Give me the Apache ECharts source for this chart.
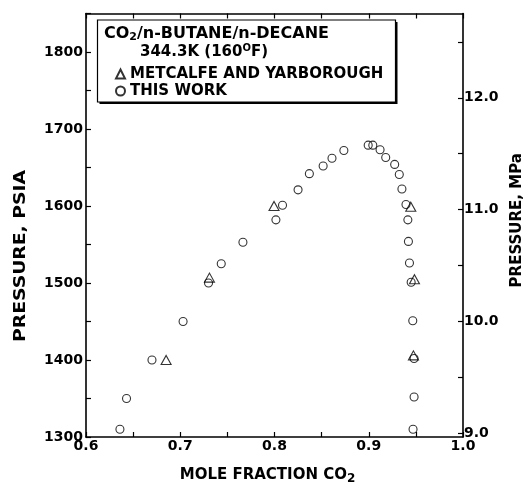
<!DOCTYPE html>
<html>
<head>
<meta charset="utf-8">
<script src="https://cdn.jsdelivr.net/npm/echarts@6/dist/echarts.min.js"></script>
<style>
  html, body { margin: 0; padding: 0; background: #fff; }
  #chart { width: 528px; height: 485px; }
</style>
</head>
<body>
<div id="chart"></div>
<script>
// CO2/n-butane/n-decane at 344.3 K
const thisWorkX = [0.636, 0.643, 0.670, 0.703, 0.730, 0.7435, 0.7665, 0.8015, 0.8085, 0.825,
  0.837, 0.8516, 0.861, 0.8736, 0.8994, 0.9043, 0.912, 0.918, 0.9275, 0.9324,
  0.9352, 0.9395, 0.9415, 0.9421, 0.9432, 0.945, 0.9467, 0.9481, 0.9481, 0.947]
const thisWorkP = [1310, 1350, 1400, 1450, 1500, 1525, 1553, 1582, 1601, 1621,
  1642, 1652, 1662, 1672, 1679, 1679, 1673, 1663, 1654, 1641,
  1622, 1602, 1582, 1554, 1526, 1501, 1451, 1402, 1352, 1310]
const metcalfeX = [0.685, 0.731, 0.7995, 0.9446, 0.9485, 0.9474]
const metcalfeP = [1400, 1507, 1600, 1599, 1505, 1406]

const xRange = [0.6, 1.0]
const psiRange = [1300, 1850]
const PSI_PER_MPA = 145.038
const mpaLabels = [9, 10, 11, 12]
const mpaTicks = [9, 9.5, 10, 10.5, 11, 11.5, 12, 12.5]

const FONT = '"DejaVu Sans", sans-serif'
const sub = {fontFamily: FONT, fontWeight: 'bold', fontSize: 11, padding: [7, 0, 0, 0], color: '#000'}
const sup = {fontFamily: FONT, fontWeight: 'bold', fontSize: 10, padding: [0, 0, 7, 0], color: '#000'}

const axisLine = {show: true, lineStyle: {color: '#000', width: 1.6}}
const axisTick = {show: true, inside: true, length: 5, lineStyle: {color: '#000', width: 1.2}}
const numLabel = {color: '#000', fontFamily: FONT, fontWeight: 'bold', fontSize: 14}
const nameStyle = {color: '#000', fontFamily: FONT, fontWeight: 'bold', fontSize: 15}

const chart = echarts.init(document.getElementById('chart'))

chart.setOption({
  animation: false,
  backgroundColor: '#fff',
  grid: {left: 86, right: 65, top: 13.5, bottom: 48, outerBoundsMode: 'none'},
  legend: {
    orient: 'vertical',
    left: 115,
    top: 66,
    padding: 0,
    itemWidth: 9,
    itemHeight: 9,
    itemGap: 1,
    selectedMode: false,
    z: 20,
    textStyle: {color: '#000', fontFamily: FONT, fontWeight: 'bold', fontSize: 15, lineHeight: 16},
    data: [
      {name: 'METCALFE AND YARBOROUGH', icon: 'triangle'},
      {name: 'THIS WORK', icon: 'circle'}
    ]
  },
  graphic: [
    // legend box with drop shadow
    {type: 'rect', z: 10, shape: {x: 99.5, y: 22, width: 298, height: 82}, style: {fill: '#000'}},
    {type: 'rect', z: 11, shape: {x: 97.5, y: 20, width: 298, height: 82}, style: {fill: '#fff', stroke: '#000', lineWidth: 1.2}},
    {
      type: 'text', z: 12, x: 104, y: 34,
      style: {
        text: 'CO{s|2}/n-BUTANE/n-DECANE',
        fill: '#000', font: 'bold 16px "DejaVu Sans"', verticalAlign: 'middle',
        rich: {s: sub}
      }
    },
    {
      type: 'text', z: 12, x: 140, y: 52,
      style: {
        text: '344.3K (160{o|O}F)',
        fill: '#000', font: 'bold 15px "DejaVu Sans"', verticalAlign: 'middle',
        rich: {o: sup}
      }
    },
    // left axis title, typeset wide like the original
    {
      type: 'text', z: 12, x: 21, y: 256, rotation: Math.PI / 2, scaleX: 1.25,
      style: {
        text: 'PRESSURE, PSIA',
        fill: '#000', font: 'bold 15px "DejaVu Sans"', align: 'center', verticalAlign: 'middle'
      }
    }
  ],
  xAxis: [
    {
      type: 'value', position: 'bottom',
      min: xRange[0], max: xRange[1], interval: 0.05,
      axisLine, axisTick,
      splitLine: {show: false},
      axisLabel: {
        ...numLabel, margin: 2,
        formatter: v => Math.round(v * 100) % 10 === 0 ? v.toFixed(1) : ''
      },
      name: 'MOLE FRACTION CO{s|2}',
      nameLocation: 'middle',
      nameGap: 29,
      nameTextStyle: {...nameStyle, padding: [0, 14, 0, 0], rich: {s: {...sub, fontSize: 12}}}
    },
    {
      type: 'value', position: 'top',
      min: xRange[0], max: xRange[1], interval: 0.05,
      axisLine, axisTick,
      splitLine: {show: false},
      axisLabel: {show: false}
    }
  ],
  yAxis: [
    {
      type: 'value', position: 'left',
      min: psiRange[0], max: psiRange[1], interval: 50,
      axisLine, axisTick,
      splitLine: {show: false},
      axisLabel: {
        ...numLabel, margin: 3,
        formatter: v => (v % 100 === 0 && v < psiRange[1]) ? String(v) : ''
      }
    },
    {
      type: 'value', position: 'right',
      min: psiRange[0] / PSI_PER_MPA, max: psiRange[1] / PSI_PER_MPA,
      axisLine,
      axisTick: {...axisTick, customValues: mpaTicks},
      splitLine: {show: false},
      axisLabel: {
        ...numLabel, margin: 1,
        customValues: mpaLabels,
        formatter: v => v.toFixed(1)
      },
      name: 'PRESSURE, MPa',
      nameLocation: 'middle',
      nameGap: 44,
      nameTextStyle: {...nameStyle, padding: [0, 0, 0, 10]}
    }
  ],
  series: [
    {
      name: 'METCALFE AND YARBOROUGH',
      type: 'scatter',
      symbol: 'triangle',
      symbolSize: [10, 9],
      itemStyle: {color: 'rgba(0,0,0,0)', borderColor: '#000', borderWidth: 1.1},
      data: metcalfeX.map((x, i) => [x, metcalfeP[i]])
    },
    {
      name: 'THIS WORK',
      type: 'scatter',
      symbol: 'circle',
      symbolSize: 8,
      itemStyle: {color: 'rgba(0,0,0,0)', borderColor: '#000', borderWidth: 1.1},
      data: thisWorkX.map((x, i) => [x, thisWorkP[i]])
    }
  ]
})
</script>
</body>
</html>
